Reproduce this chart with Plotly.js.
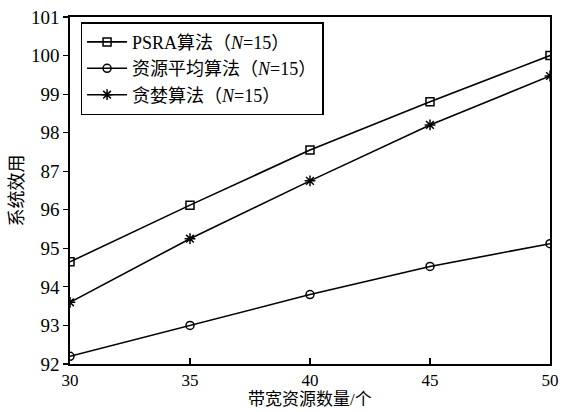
<!DOCTYPE html>
<html><head><meta charset="utf-8">
<script src="https://cdn.plot.ly/plotly-3.0.1.min.js"></script>
<style>body{margin:0;background:#fff}#c{width:566px;height:412px}</style>
</head><body><div id="c"></div>
<script>
const xVals = [30, 35, 40, 45, 50];
const psra = [94.65, 96.12, 97.55, 98.8, 100.0];
const avg = [92.2, 93.0, 93.8, 94.53, 95.12];
const greedy = [93.6, 95.25, 96.75, 98.2, 99.47];
const yTickVals = [92, 93, 94, 95, 96, 97, 98, 99, 100, 101];
const yTickText = ['92', '93', '94', '95', '96', '87', '98', '99', '100', '101'];
const names = ['PSRA算法（<i>N</i>=15）', '资源平均算法（<i>N</i>=15）', '贪婪算法（<i>N</i>=15）'];
const xTitle = '带宽资源数量/个';
const yTitle = '系统效用';
const font = '"Liberation Serif", "Times New Roman", "Noto Sans CJK SC", serif';
function tr(y, name, sym, sz) {
  return {x: xVals, y: y, name: name, type: 'scatter', mode: 'lines+markers',
    line: {color: '#000', width: 1.6},
    marker: {symbol: sym, size: sz, color: '#000', line: {color: '#000', width: 1.5}}};
}
const data = [
  tr(psra, names[0], 'square-open', 8),
  tr(avg, names[1], 'circle-open', 8),
  tr(greedy, names[2], 'asterisk-open', 9)
];
const layout = {
  width: 566, height: 412,
  margin: {l: 70, r: 16, t: 17, b: 48},
  paper_bgcolor: '#fff', plot_bgcolor: '#fff',
  font: {family: font, size: 18, color: '#000'},
  showlegend: true,
  legend: {x: 0.022, y: 0.985, xanchor: 'left', yanchor: 'top', bordercolor: '#000', borderwidth: 1.5,
    bgcolor: '#fff', font: {family: font, size: 18, color: '#000'}, tracegroupgap: 0, itemwidth: 40},
  xaxis: {range: [30, 50], tickvals: xVals, ticks: 'inside', ticklen: 6, tickwidth: 1.2, tickcolor: '#000',
    showline: true, linecolor: '#000', linewidth: 1.6, mirror: true, showgrid: false, zeroline: false,
    tickfont: {family: font, size: 17}},
  yaxis: {range: [92, 101], tickvals: yTickVals, ticktext: yTickText, ticks: 'outside', ticklen: 5, tickwidth: 1.2,
    tickcolor: '#000', showline: true, linecolor: '#000', linewidth: 1.6, mirror: true, showgrid: false, zeroline: false,
    title: {text: yTitle, font: {family: font, size: 18}, standoff: 3},
    tickfont: {family: font, size: 19}},
  annotations: [{text: xTitle, xref: 'paper', yref: 'paper', x: 0.5, y: -0.101, xanchor: 'center', yanchor: 'middle',
    showarrow: false, font: {family: font, size: 17, color: '#000'}}]
};
Plotly.newPlot('c', data, layout, {staticPlot: true, displayModeBar: false});
</script></body></html>
